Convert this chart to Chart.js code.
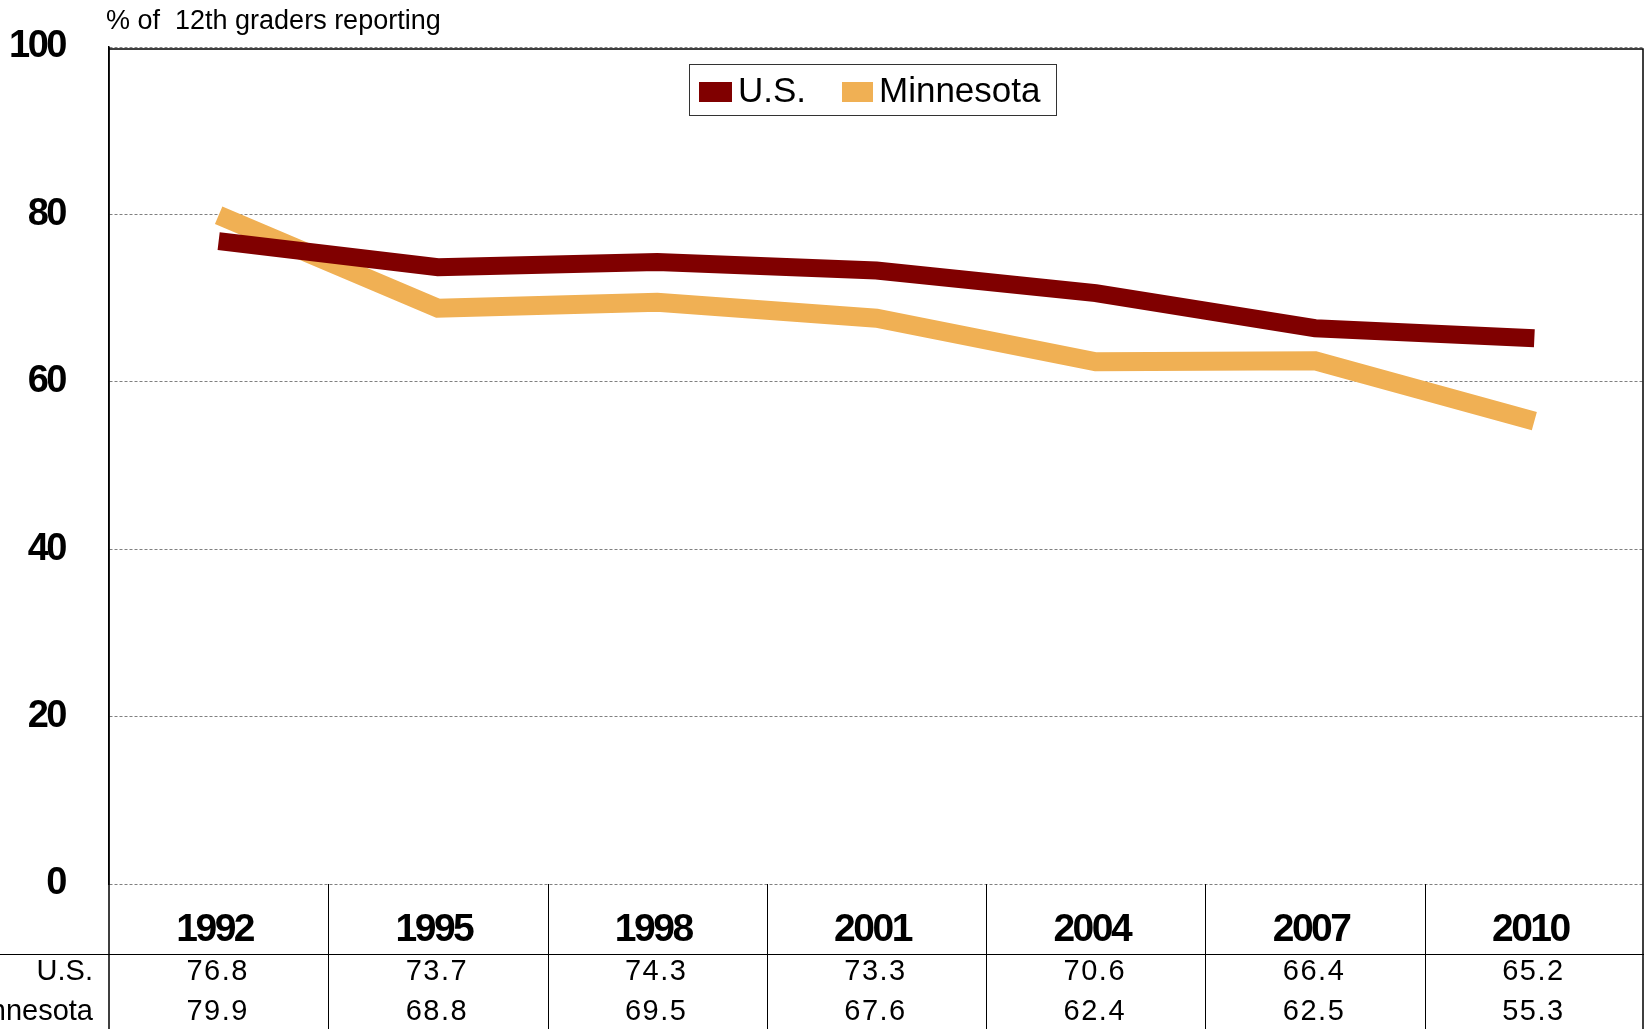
<!DOCTYPE html>
<html>
<head>
<meta charset="utf-8">
<script src="https://cdn.jsdelivr.net/npm/chart.js@4.4.1/dist/chart.umd.min.js"></script>
<style>
  html, body { margin: 0; padding: 0; background: #fff; }
  canvas { display: block; }
</style>
</head>
<body>
<canvas id="graph" width="1646" height="1029"></canvas>
<script>
// data (data table under the plot)
const years = ['1992', '1995', '1998', '2001', '2004', '2007', '2010'];
const usValues = [76.8, 73.7, 74.3, 73.3, 70.6, 66.4, 65.2];
const mnValues = [79.9, 68.8, 69.5, 67.6, 62.4, 62.5, 55.3];
const seriesNames = ['U.S.', 'Minnesota'];
const yTicks = [0, 20, 40, 60, 80, 100];
const axisTitle = '% of  12th graders reporting';

const FONT = '"Liberation Sans", Arial, sans-serif';
const US_COLOR = '#800000';
const MN_COLOR = '#F0B054';

// draws the title, the legend box and the data table under the plot
const tablePlugin = {
  id: 'dataTable',
  beforeDraw(chart) {
    chart.ctx.letterSpacing = '-2.5px'; // tight bold tick numbers
  },
  beforeDatasetsDraw(chart) {
    chart.ctx.letterSpacing = '0px';
  },
  afterDraw(chart) {
    const ctx = chart.ctx;
    const area = chart.chartArea;
    const x = chart.scales.x;
    const H = chart.height;
    const colW = (area.right - area.left) / years.length;
    const rowLine = area.bottom + 70;

    ctx.save();

    // plot border (top + right) and left axis running down through the table
    ctx.strokeStyle = '#000';
    ctx.lineWidth = 1.5;
    ctx.beginPath();
    ctx.moveTo(area.left, area.top + 2);
    ctx.lineTo(area.right - 1, area.top + 2);
    ctx.lineTo(area.right - 1, H);
    ctx.moveTo(area.left, area.top);
    ctx.lineTo(area.left, H);
    ctx.stroke();

    // table grid
    ctx.lineWidth = 1;
    ctx.beginPath();
    for (let i = 1; i < years.length; i++) {
      const bx = Math.round(area.left + colW * i) + 0.5;
      ctx.moveTo(bx, area.bottom);
      ctx.lineTo(bx, H);
    }
    ctx.moveTo(0, rowLine + 0.5);
    ctx.lineTo(area.right, rowLine + 0.5);
    ctx.stroke();

    // years + values
    ctx.fillStyle = '#000';
    ctx.textAlign = 'center';
    ctx.textBaseline = 'middle';
    years.forEach((yr, i) => {
      const cx = x.getPixelForValue(i);
      ctx.letterSpacing = '-2.5px';
      ctx.font = 'bold 39px ' + FONT;
      ctx.fillText(yr, cx - 4, area.bottom + 46);
      ctx.letterSpacing = '1.5px';
      ctx.font = '29px ' + FONT;
      ctx.fillText(usValues[i].toFixed(1), cx - 1, rowLine + 18);
      ctx.fillText(mnValues[i].toFixed(1), cx - 1, rowLine + 58);
    });

    // row labels (right aligned, Minnesota runs off the left edge)
    ctx.letterSpacing = '0px';
    ctx.textAlign = 'right';
    ctx.font = '29px ' + FONT;
    ctx.fillText(seriesNames[0], 93, rowLine + 18);
    ctx.fillText(seriesNames[1], 93, rowLine + 58);

    // axis title
    ctx.textAlign = 'left';
    ctx.font = '27px ' + FONT;
    ctx.fillText(axisTitle, 106, 22);

    // legend
    ctx.strokeStyle = '#333';
    ctx.lineWidth = 1;
    ctx.strokeRect(689.5, 64.5, 367, 51);
    ctx.fillStyle = US_COLOR;
    ctx.fillRect(699, 82, 33, 20);
    ctx.fillStyle = MN_COLOR;
    ctx.fillRect(842, 82, 31, 20);
    ctx.fillStyle = '#000';
    ctx.font = '35px ' + FONT;
    ctx.fillText(seriesNames[0], 738, 92);
    ctx.fillText(seriesNames[1], 879, 92);

    ctx.restore();
  }
};

new Chart(document.getElementById('graph'), {
  type: 'line',
  data: {
    labels: years,
    datasets: [
      {
        label: seriesNames[0],
        data: usValues,
        borderColor: US_COLOR,
        backgroundColor: US_COLOR,
        borderWidth: 18,
      },
      {
        label: seriesNames[1],
        data: mnValues,
        borderColor: MN_COLOR,
        backgroundColor: MN_COLOR,
        borderWidth: 19,
      }
    ]
  },
  options: {
    responsive: false,
    animation: false,
    layout: { padding: { top: 47, bottom: 145, right: 2, left: 0 } },
    elements: {
      point: { radius: 0 },
      line: { tension: 0, borderJoinStyle: 'miter', borderCapStyle: 'butt' }
    },
    plugins: {
      legend: { display: false },
      tooltip: { enabled: false }
    },
    scales: {
      x: {
        display: false,
        offset: true
      },
      y: {
        min: 0,
        max: 100,
        afterBuildTicks: (scale) => { scale.ticks = yTicks.map(v => ({ value: v })); },
        afterFit: (scale) => {
          scale.width = 109;
          scale.paddingTop = 0;
          scale.paddingBottom = 0;
        },
        ticks: {
          color: '#000',
          padding: 44,
          font: { family: FONT, size: 38, weight: 'bold' }
        },
        grid: {
          drawTicks: false,
          color: '#808080',
          lineWidth: 1
        },
        border: {
          display: true,
          color: '#000',
          width: 1.5,
          dash: [3, 2]
        }
      }
    }
  },
  plugins: [tablePlugin]
});
</script>
</body>
</html>
